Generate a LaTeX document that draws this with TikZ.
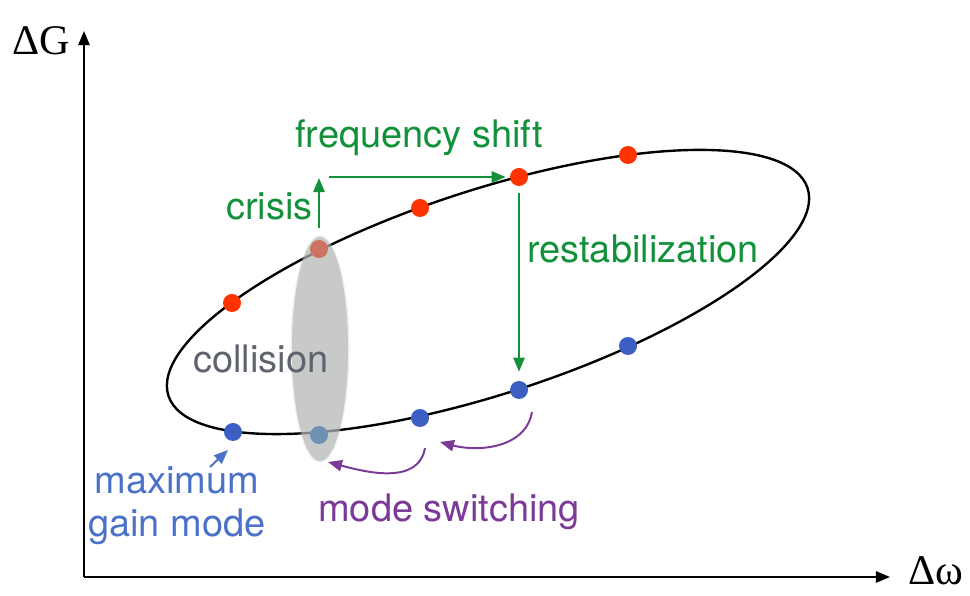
\documentclass[tikz,border=0pt]{standalone}
\usepackage{fontspec}
\setmainfont{TeX Gyre Heros}
\newfontfamily\axisfont{Liberation Serif}
\usetikzlibrary{arrows.meta}
\definecolor{dotred}{HTML}{FF3300}
\definecolor{dotblue}{HTML}{3D5FC4}
\definecolor{fadered}{HTML}{CD7364}
\definecolor{fadeblue}{HTML}{6E91B4}
\definecolor{stepgreen}{HTML}{12913A}
\definecolor{switchpurple}{HTML}{7B3A98}
\definecolor{gainblue}{HTML}{4B72C8}
\definecolor{collgray}{HTML}{C8C9C9}
\definecolor{colltext}{HTML}{5E636D}
\begin{document}
\begin{tikzpicture}[x=1.0cm,y=1.0cm,>={Triangle[length=10pt,width=8pt]},
  dot/.style={circle,inner sep=0pt,minimum size=0.45cm},
  lbl/.style={font=\fontsize{27}{31}\selectfont,inner sep=0pt},
  axlbl/.style={font=\axisfont\fontsize{30}{34}\selectfont,inner sep=0pt},
  greenarrow/.style={stepgreen,line width=1.4pt,->},
  switcharrow/.style={switchpurple,line width=1.4pt,->}]
  \useasboundingbox (0,0) rectangle (24.25,14.9);
  % axes
  \coordinate (O) at (2.1,0.475);
  \coordinate (ytop) at (2.1,14.125);
  \coordinate (xend) at (22.25,0.475);
  \draw[line width=1.4pt,->] (O) -- (ytop);
  \draw[line width=1.4pt,->] (O) -- (xend);
  \node[axlbl,anchor=base west] (dG) at (0.3,13.525) {ΔG};
  \node[axlbl,anchor=base west] (dw) at (22.7,0.275) {Δω};
  % mode loop
  \coordinate (loopc) at (12.2,7.6);
  \fill[collgray] (8.0,6.175) ellipse (0.7 and 2.8);
  \draw[line width=1.7pt,rotate around={18:(loopc)}] (loopc) ellipse (8.4 and 2.55);
  \fill[collgray,opacity=0.5] (8.0,6.175) ellipse (0.7 and 2.8);
  \fill[collgray,opacity=0.3] (8.0,6.175) ellipse (0.74 and 2.84);
  \node[dot,fill=dotred] (r1) at (5.8,7.325) {};
  \node[dot,fill=fadered] (r2) at (7.975,8.675) {};
  \node[dot,fill=dotred] (r3) at (10.5,9.7) {};
  \node[dot,fill=dotred] (r4) at (12.975,10.475) {};
  \node[dot,fill=dotred] (r5) at (15.7,11.025) {};
  \node[dot,fill=dotblue] (b1) at (5.825,4.1) {};
  \node[dot,fill=fadeblue] (b2) at (7.975,4.025) {};
  \node[dot,fill=dotblue] (b3) at (10.5,4.45) {};
  \node[dot,fill=dotblue] (b4) at (12.975,5.15) {};
  \node[dot,fill=dotblue] (b5) at (15.7,6.25) {};
  \node[lbl,colltext,anchor=base west] (coll) at (4.825,5.575) {collision};
  % crisis, shift, restabilization
  \coordinate (crisistop) at (7.975,10.45);
  \coordinate (shiftstart) at (8.225,10.475);
  \draw[greenarrow,shorten <=0.3cm] (r2) -- (crisistop);
  \draw[greenarrow,shorten >=0.1cm] (shiftstart) -- (r4);
  \draw[greenarrow,shorten <=0.175cm,shorten >=0.225cm] (r4) -- (b4);
  \node[lbl,stepgreen,anchor=base east] (crisis) at (7.825,9.4) {crisis};
  \node[lbl,stepgreen,anchor=base west] (fshift) at (7.375,11.2) {frequency shift};
  \node[lbl,stepgreen,anchor=base west] (restab) at (13.175,8.325) {restabilization};
  % mode switching
  \draw[switcharrow] ([shift={(0.325,-0.55)}]b4.center) to[out=-100,in=-15] ([shift={(0.5,-0.6)}]b3.center);
  \draw[switcharrow] ([shift={(0.125,-0.75)}]b3.center) to[out=-100,in=-15] ([shift={(0.225,-0.675)}]b2.center);
  \node[lbl,switchpurple,anchor=base west] (switch) at (7.95,1.85) {mode switching};
  % maximum gain mode
  \node[lbl,gainblue,align=center,anchor=base] (gain) at (4.425,1.475) {maximum\\gain mode};
  \draw[gainblue,line width=1.4pt,->] ([shift={(-0.575,-0.875)}]b1.center) -- ([shift={(-0.125,-0.45)}]b1.center);
\end{tikzpicture}
\end{document}
